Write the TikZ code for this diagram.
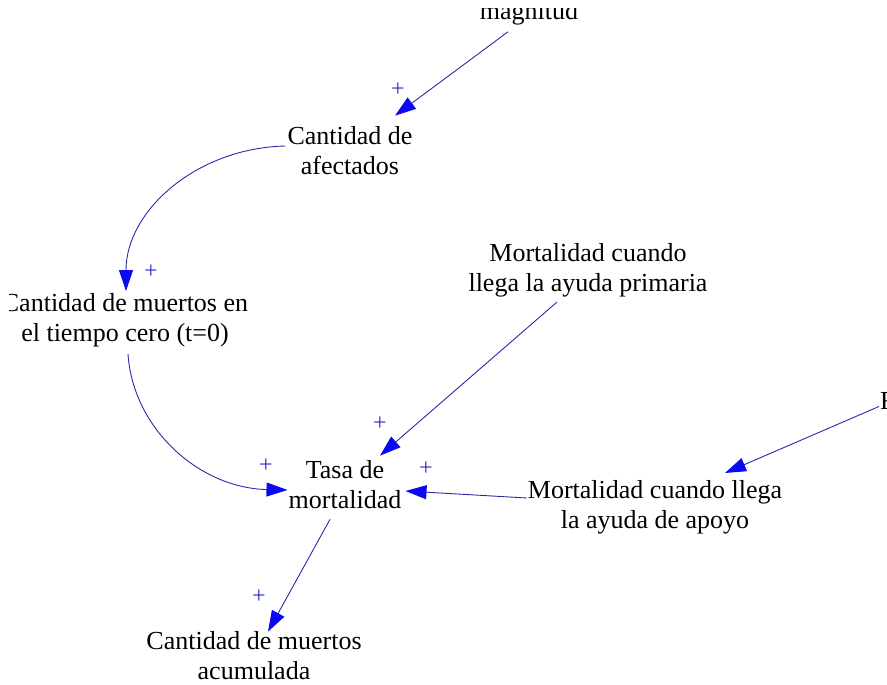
\documentclass[tikz,border=0pt]{standalone}
\usepackage{fontspec}
\setmainfont{Liberation Serif}
\usepackage{xcolor}
\definecolor{linkblue}{HTML}{2A2AA8}
\definecolor{headblue}{HTML}{0A0AF0}
\definecolor{signblue}{HTML}{3030D0}
\usepackage{tikz}
\usetikzlibrary{shapes,arrows,arrows.meta}
\usetikzlibrary{positioning}
\tikzstyle{var} = [rectangle, align=center, inner sep=2pt,
    font=\fontsize{26}{30}\selectfont]
\tikzstyle{line} = [draw=linkblue, line width=0.9pt,
    -{Triangle[length=21pt,width=14pt,color=headblue]}]
\tikzstyle{sign} = [inner sep=0pt, text=signblue, font=\fontsize{24}{24}\selectfont]

\begin{document}
\begin{tikzpicture}[x=1pt,y=-1pt]
\useasboundingbox (0,0) rectangle (887,685);
\clip (9,9) rectangle (887,685);

    % Place nodes
    \node [var, anchor=base] (mag) at (529,20) {magnitud};
    \node [var] (afe) at (350,151) {Cantidad de\\afectados};
    \node [var] (cero) at (125,320) {Cantidad de muertos en\\el tiempo cero (t=0)};
    \node [var] (prim) at (588,270) {Mortalidad cuando\\llega la ayuda primaria};
    \node [var] (tasa) at (345,485) {Tasa de\\mortalidad};
    \node [var] (apoyo) at (655,507) {Mortalidad cuando llega\\la ayuda de apoyo};
    \node [var, anchor=base west] (ext) at (878,409) {F};
    \node [var] (acum) at (254,656) {Cantidad de muertos\\acumulada};

    % Polarity signs
    \node [sign] (s1) at (398,90) {+};
    \node [sign] (s2) at (151,272) {+};
    \node [sign] (s3) at (266,466) {+};
    \node [sign] (s4) at (380,424) {+};
    \node [sign] (s5) at (426,469) {+};
    \node [sign] (s6) at (259,597) {+};

    % Draw links
    \path [line] ([shift={(-21,4)}]mag.south) -- ([shift={(45,-9)}]afe.north);
    \path [line] ([shift={(0,-5)}]afe.west) .. controls +(-89,2) and +(0,-80) .. ([shift={(1,0)}]cero.north);
    \path [line] ([shift={(3,5)}]cero.south) .. controls +(5,75) and +(-88,-2) .. ([shift={(1,5)}]tasa.west);
    \path [line] ([shift={(-31,3)}]prim.south) -- ([shift={(35,-3)}]tasa.north);
    \path [line] ([shift={(1,-9)}]apoyo.west) -- ([shift={(2,6)}]tasa.east);
    \path [line] ([shift={(1,6)}]ext.west) -- ([shift={(70,-5)}]apoyo.north);
    \path [line] ([shift={(-15,8)}]tasa.south) -- ([shift={(14,2)}]acum.north);
\end{tikzpicture}
\end{document}
